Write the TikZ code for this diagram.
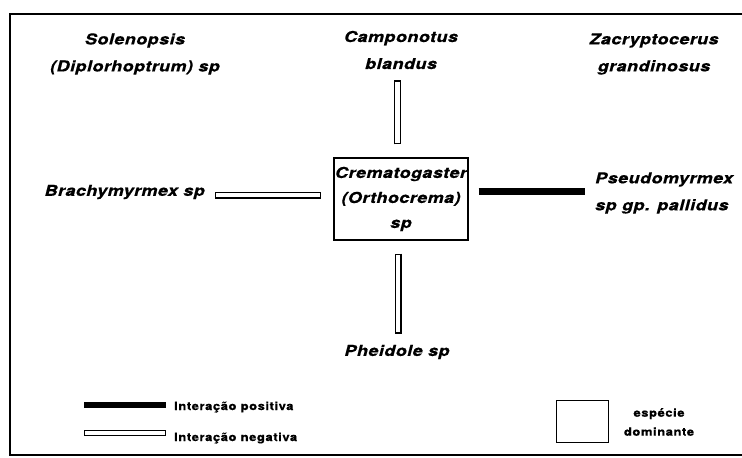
\documentclass[tikz,border=0pt]{standalone}
\usepackage{fontspec}
\setmainfont{TeX Gyre Heros}[FakeStretch=1.2, LetterSpace=3, FakeBold=0.6]
\newfontfamily\legfont{TeX Gyre Heros}[FakeStretch=1.15, LetterSpace=5, FakeBold=0.5]
\begin{document}
\begin{tikzpicture}[x=1pt,y=-1pt,
  lbl/.style={font=\fontsize{15}{27}\selectfont\bfseries\itshape, inner sep=0pt, align=center},
  leg/.style={font=\legfont\fontsize{11.3}{19}\selectfont\bfseries, inner sep=0pt},
  posbar/.style={line width=7pt, line cap=butt},
  negout/.style={line width=7pt, line cap=butt},
  negin/.style={line width=4.6pt, white, line cap=butt}]
\useasboundingbox (0,0) rectangle (742,458);
\fill[white] (0,0) rectangle (742,458);
\draw[line width=1.5pt] (10,14) rectangle (752,455);

% species
\node[lbl] (sol) at (135,54) {Solenopsis\\(Diplorhoptrum) sp};
\node[lbl] (camp) at (401,50) {Camponotus\\blandus};
\node[lbl] (zac) at (654,54) {Zacryptocerus\\grandinosus};
\node[lbl, anchor=east] (bra) at (205,192) {Brachymyrmex sp};
\node[lbl, anchor=west, align=left] (pse) at (595,193) {Pseudomyrmex\\sp gp. pallidus};
\node[lbl] (phe) at (397,352) {Pheidole sp};
\node[lbl, font=\fontsize{15}{25}\selectfont\bfseries\itshape, draw, line width=1.2pt,
      minimum width=134pt, minimum height=82pt] (crem) at (401,199)
      {Crematogaster\\(Orthocrema)\\sp};

% interactions
\draw[negout, shorten <=13pt, shorten >=11pt] ([xshift=-3.5pt]crem.north) -- ([xshift=-3.5pt]crem.north |- camp.south);
\draw[negin, shorten <=14.2pt, shorten >=12.2pt] ([xshift=-3.5pt]crem.north) -- ([xshift=-3.5pt]crem.north |- camp.south);

\draw[negout, shorten <=13pt, shorten >=11pt] ([xshift=-3pt]crem.south) -- ([xshift=-3pt]crem.south |- phe.north);
\draw[negin, shorten <=14.2pt, shorten >=12.2pt] ([xshift=-3pt]crem.south) -- ([xshift=-3pt]crem.south |- phe.north);

\draw[negout, shorten <=10pt, shorten >=12pt] ([yshift=-3pt]bra.east) -- ([yshift=-3pt]bra.east -| crem.west);
\draw[negin, shorten <=11.2pt, shorten >=13.2pt] ([yshift=-3pt]bra.east) -- ([yshift=-3pt]bra.east -| crem.west);

\draw[posbar, shorten <=10pt, shorten >=10pt] ([yshift=1.5pt]crem.east |- pse.west) -- ([yshift=1.5pt]pse.west);

% legend
\node[leg, anchor=base west] (lpos) at (174,410) {Interação positiva};
\node[leg, anchor=base west] (lneg) at (174,441) {Interação negativa};
\coordinate (lp) at (84,405);
\coordinate (ln) at (84,433);
\draw[posbar, line width=6pt, shorten >=8pt] (lp) -- (lp -| lpos.west);
\draw[negout, line width=6pt, shorten >=8pt] (ln) -- (ln -| lneg.west);
\draw[negin, line width=3.8pt, shorten <=1.1pt, shorten >=9.1pt] (ln) -- (ln -| lneg.west);
\node[draw, line width=1pt, minimum width=52pt, minimum height=42pt] (dom) at (582,421) {};
\node[leg, align=center] (domtxt) at (659,422) {espécie\\dominante};
\end{tikzpicture}
\end{document}
